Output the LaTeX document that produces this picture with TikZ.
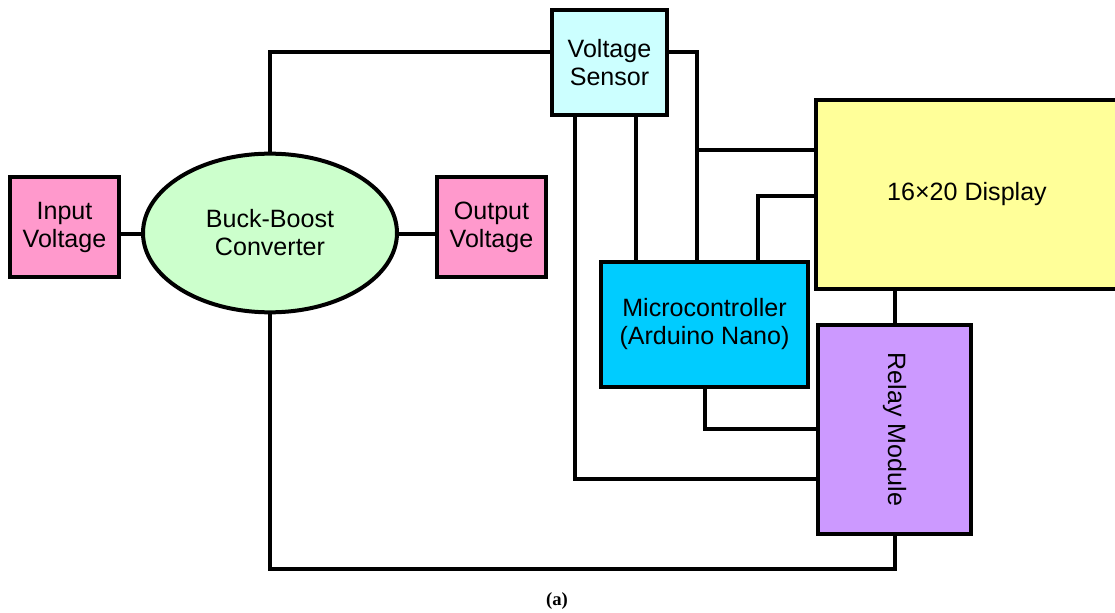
\documentclass[tikz,border=0pt]{standalone}
\usepackage{fontspec}
\setmainfont{Liberation Sans}
\newfontfamily\capfont{Liberation Serif}
\usetikzlibrary{shapes.geometric}
\definecolor{pinkc}{HTML}{FF99CC}
\definecolor{greenc}{HTML}{CCFFCC}
\definecolor{sensc}{HTML}{CCFFFF}
\definecolor{dispc}{HTML}{FFFF99}
\definecolor{mcuc}{HTML}{00CCFF}
\definecolor{relayc}{HTML}{CC99FF}
\begin{document}
\begin{tikzpicture}[x=0.75pt,y=-0.75pt,
  lbl/.style={font=\fontsize{18.8}{21}\selectfont},
  blk/.style={draw=black,line width=3pt,rectangle,align=center,inner sep=0pt,lbl},
  wire/.style={draw=black,line width=3pt,line join=miter}]
\useasboundingbox (0,0) rectangle (1115,613);
\clip (0,0) rectangle (1115,613);

% blocks
\node[blk,fill=pinkc,minimum width=81.75pt,minimum height=75pt] (in) at (64.5,227) {Input\\Voltage};
\node[blk,ellipse,fill=greenc,minimum width=190.5pt,minimum height=119pt] (bb) at (270,233) {Buck-Boost\\Converter};
\node[blk,fill=pinkc,minimum width=81.75pt,minimum height=75pt] (out) at (491.5,227) {Output\\Voltage};
\node[blk,fill=sensc,minimum width=86.25pt,minimum height=78.75pt] (vs) at (609.5,62.5) {Voltage\\Sensor};
\node[blk,fill=dispc,minimum width=227.25pt,minimum height=141.75pt] (disp) at (967,194.5) {16×20 Display};
\node[blk,fill=mcuc,minimum width=155.25pt,minimum height=93.75pt] (mcu) at (704.5,324.5) {Microcontroller\\(Arduino Nano)};
\node[blk,fill=relayc,minimum width=114.75pt,minimum height=156.75pt] (relay) at (894.5,429.5) {};
\node[rotate=-90,lbl] (relaytxt) at (relay.center) {Relay Module};

% connections
\draw[wire] (in.east |- 0,234) -- (bb.west |- 0,234);
\draw[wire] (bb.east |- 0,234) -- (out.west |- 0,234);
\draw[wire] (bb.north) |- (vs.west |- 0,52);
\draw[wire] (bb.south) |- (relay.south |- 0,569) -- (relay.south);
\draw[wire] (vs.east |- 0,52) -| (mcu.north -| 697,0);
\draw[wire] (697,150) -- (disp.west |- 0,150);
\draw[wire] (vs.south -| 636,0) -- (mcu.north -| 636,0);
\draw[wire] (vs.south -| 575,0) |- (relay.west |- 0,479);
\draw[wire] (mcu.north -| 758,0) |- (disp.west |- 0,196);
\draw[wire] (disp.south -| relay.north) -- (relay.north);
\draw[wire] (mcu.south -| 705,0) |- (relay.west |- 0,429);

% caption
\node[font=\capfont\bfseries\fontsize{14}{16}\selectfont] (cap) at (557,601) {(a)};
\end{tikzpicture}
\end{document}
